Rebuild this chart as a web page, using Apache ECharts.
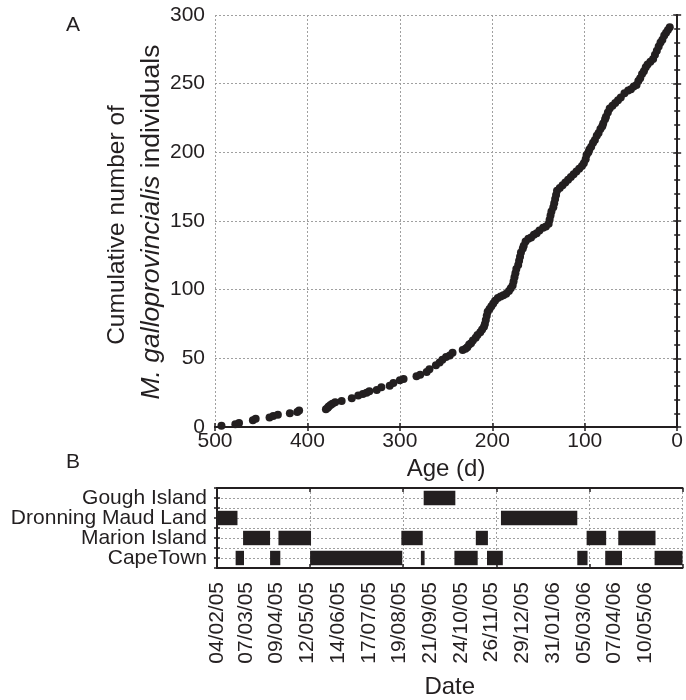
<!DOCTYPE html>
<html>
<head>
<meta charset="utf-8">
<script src="https://cdn.jsdelivr.net/npm/echarts@6/dist/echarts.min.js"></script>
<style>
  html, body { margin: 0; padding: 0; background: #fff; }
  #chart { width: 686px; height: 700px; }
</style>
</head>
<body>
<div id="chart"></div>
<script>
// A: [age (d), cumulative number of individuals]
var individuals = [
  [493, 1], [478, 2], [474, 3], [459, 5], [456, 6], [441, 7], [437, 8], [432, 9], [419, 10], [411, 11], [409, 12],
  [380, 13], [378, 14], [377, 15], [375, 16], [373, 17], [370, 18], [363, 19], [352, 21], [345, 23], [340, 24],
  [336, 25], [333, 26], [325, 27], [320, 29], [311, 30], [307, 32], [300, 34], [296, 35], [282, 37], [278, 38],
  [271, 40], [268, 42], [261, 45], [257, 47], [254, 49], [250, 51], [246, 52], [243, 54], [232, 56],
  [229, 57], [227, 58], [225, 60], [223, 61], [221, 63], [218, 65], [216, 67], [213, 69], [211, 71], [209, 73],
  [208, 75], [207, 78], [206, 81], [205, 84], [203, 86], [201, 88], [199, 90], [197, 92], [194, 94], [191, 95],
  [188, 96], [185, 97], [182, 99], [180, 101], [178, 103], [177, 106], [176, 109], [175, 112], [174, 115],
  [172, 118], [171, 121], [170, 124], [169, 127], [167, 130], [166, 132], [164, 135], [161, 137], [158, 138],
  [155, 140], [152, 141], [149, 143], [145, 145], [142, 146], [139, 148], [138, 151], [137, 154], [136, 157],
  [134, 160], [133, 163], [132, 166], [131, 169], [130, 172], [127, 174], [124, 176], [121, 178], [118, 180],
  [115, 182], [112, 184], [109, 186], [106, 188], [103, 190], [101, 192], [99, 195], [98, 198], [96, 200],
  [95, 202], [93, 204], [91, 207], [89, 209], [87, 212], [85, 214], [83, 217], [81, 219], [80, 221], [78, 224],
  [77, 226], [75, 229], [73, 232], [70, 234], [67, 236], [64, 238], [61, 240], [57, 243], [53, 245], [50, 246],
  [47, 248], [44, 249], [42, 252], [40, 254], [38, 257], [36, 259], [34, 262], [32, 264], [29, 266], [26, 268],
  [24, 271], [22, 274], [20, 277], [18, 280], [16, 282], [14, 285], [12, 287], [10, 289], [8, 291]
];

// B: sites, bottom row first
var siteNames = ['CapeTown', 'Marion Island', 'Dronning Maud Land', 'Gough Island'];
// [site index, start, end]
var trips = [
  [2, '2005-02-04', '2005-02-26'], [2, '2005-12-06', '2006-02-26'],
  [1, '2005-03-04', '2005-04-02'], [1, '2005-04-11', '2005-05-16'], [1, '2005-08-21', '2005-09-13'],
  [1, '2005-11-09', '2005-11-22'], [1, '2006-03-08', '2006-03-29'], [1, '2006-04-11', '2006-05-21'],
  [3, '2005-09-14', '2005-10-18'],
  [0, '2005-02-24', '2005-03-05'], [0, '2005-04-02', '2005-04-13'], [0, '2005-05-15', '2005-08-22'],
  [0, '2005-09-11', '2005-09-15'], [0, '2005-10-17', '2005-11-11'], [0, '2005-11-21', '2005-12-08'],
  [0, '2006-02-26', '2006-03-09'], [0, '2006-03-28', '2006-04-15'], [0, '2006-05-20', '2006-06-19']
];
var dateLabels = ['2005-02-04', '2005-03-07', '2005-04-09', '2005-05-12', '2005-06-14', '2005-07-17',
  '2005-08-19', '2005-09-21', '2005-10-24', '2005-11-26', '2005-12-29', '2006-01-31', '2006-03-05',
  '2006-04-07', '2006-05-10'];

var DAY = 86400000;
var axisStart = Date.UTC(2005, 1, 4);
function dayOf(s) {
  var p = s.split('-');
  return (Date.UTC(+p[0], +p[1] - 1, +p[2]) - axisStart) / DAY;
}
function pad(n) { return (n < 10 ? '0' : '') + n; }
function fmtDay(v) {
  var d = new Date(axisStart + Math.round(v) * DAY);
  return pad(d.getUTCDate()) + '/' + pad(d.getUTCMonth() + 1) + '/' + pad(d.getUTCFullYear() % 100);
}

var INK = '#231f20';
var FONT = '"Liberation Sans", Arial, sans-serif';
var grid = { type: [2, 2], color: '#a0a0a0', width: 1 };
var line = { lineStyle: { color: INK, width: 2 } };
var tick = { inside: true, length: 4, lineStyle: { color: INK, width: 1.5 } };
var rowTick = { inside: true, length: 3, lineStyle: { color: INK, width: 1.5 } };

var tripData = trips.map(function (t) { return [dayOf(t[1]), dayOf(t[2]), t[0] + 1]; });

var chart = echarts.init(document.getElementById('chart'));
chart.setOption({
  animation: false,
  textStyle: { fontFamily: FONT, color: INK },
  grid: [
    { left: 215, top: 15, width: 466.5, height: 412 },
    { left: 217, top: 488, width: 465.5, height: 80 }
  ],
  xAxis: [
    { gridIndex: 0, type: 'value', inverse: true, min: 0, max: 500, interval: 100,
      axisLine: line, axisTick: tick, splitLine: { lineStyle: grid },
      axisLabel: { fontSize: 21, color: INK, margin: 4, fontFamily: FONT },
      name: 'Age (d)', nameLocation: 'middle', nameGap: 26,
      nameTextStyle: { fontSize: 24, color: INK, fontFamily: FONT } },
    { gridIndex: 0, type: 'value', inverse: true, min: 0, max: 500, interval: 100, position: 'top',
      axisLine: line, axisTick: tick, axisLabel: { show: false }, splitLine: { show: false } },
    { gridIndex: 1, type: 'value', min: 0, max: 500, interval: 100,
      axisLine: line, axisTick: tick, splitLine: { lineStyle: grid },
      axisLabel: { customValues: dateLabels.map(dayOf), formatter: fmtDay, rotate: 90,
        fontSize: 21, color: INK, margin: 14, fontFamily: FONT },
      name: 'Date', nameLocation: 'middle', nameGap: 107,
      nameTextStyle: { fontSize: 24, color: INK, fontFamily: FONT } },
    { gridIndex: 1, type: 'value', min: 0, max: 500, interval: 100, position: 'top',
      axisLine: line, axisTick: tick, axisLabel: { show: false }, splitLine: { show: false } }
  ],
  yAxis: [
    { gridIndex: 0, type: 'value', min: 0, max: 300, interval: 50,
      axisLine: line, axisTick: tick, splitLine: { lineStyle: grid },
      minorTick: { show: true, splitNumber: 5, length: 3, lineStyle: { color: INK, width: 1.5 } },
      axisLabel: { fontSize: 21, color: INK, margin: 10, fontFamily: FONT } },
    { gridIndex: 0, type: 'value', min: 0, max: 300, interval: 50, position: 'right',
      axisLine: line, axisTick: tick, axisLabel: { show: false }, splitLine: { show: false },
      minorTick: { show: true, splitNumber: 5, length: 3, lineStyle: { color: INK, width: 1.5 } } },
    { gridIndex: 1, type: 'value', min: 0.5, max: 4.5, interval: 0.5,
      axisLine: line, axisTick: rowTick, splitLine: { lineStyle: grid }, axisLabel: { show: false } },
    { gridIndex: 1, type: 'value', min: 0.5, max: 4.5, interval: 0.5, position: 'right',
      axisLine: line, axisTick: rowTick, axisLabel: { show: false }, splitLine: { show: false } },
    // row names only
    { gridIndex: 1, type: 'category', data: siteNames, position: 'left',
      axisLine: { show: false }, axisTick: { show: false }, splitLine: { show: false },
      axisLabel: { interval: 0, fontSize: 21, color: INK, margin: 10, fontFamily: FONT } }
  ],
  graphic: [
    { type: 'text', x: 73, y: 25, style: { text: 'A', font: '21px ' + FONT, fill: INK, align: 'center', verticalAlign: 'middle' } },
    { type: 'text', x: 73, y: 462, style: { text: 'B', font: '21px ' + FONT, fill: INK, align: 'center', verticalAlign: 'middle' } },
    { type: 'text', x: 117, y: 225, rotation: Math.PI / 2,
      style: { text: 'Cumulative number of', font: '24.5px ' + FONT, fill: INK, align: 'center', verticalAlign: 'middle' } },
    { type: 'text', x: 152, y: 222, rotation: Math.PI / 2,
      style: { text: '{i|M. galloprovincialis} individuals', font: '26.5px ' + FONT, fill: INK,
        align: 'center', verticalAlign: 'middle',
        rich: { i: { fontStyle: 'italic', fontSize: 26.5, fontFamily: FONT, fill: INK } } } }
  ],
  series: [
    { type: 'scatter', xAxisIndex: 0, yAxisIndex: 0, data: individuals,
      symbolSize: 8, itemStyle: { color: INK, opacity: 1 } },
    { type: 'custom', xAxisIndex: 2, yAxisIndex: 2, data: tripData,
      encode: { x: [0, 1], y: 2 },
      renderItem: function (params, api) {
        var a = api.coord([api.value(0), api.value(2)]);
        var b = api.coord([api.value(1), api.value(2)]);
        var h = api.size([0, 1])[1] * 0.72;
        return { type: 'rect', shape: { x: a[0], y: a[1] - h / 2, width: b[0] - a[0], height: h },
          style: { fill: INK } };
      } }
  ]
});
</script>
</body>
</html>
